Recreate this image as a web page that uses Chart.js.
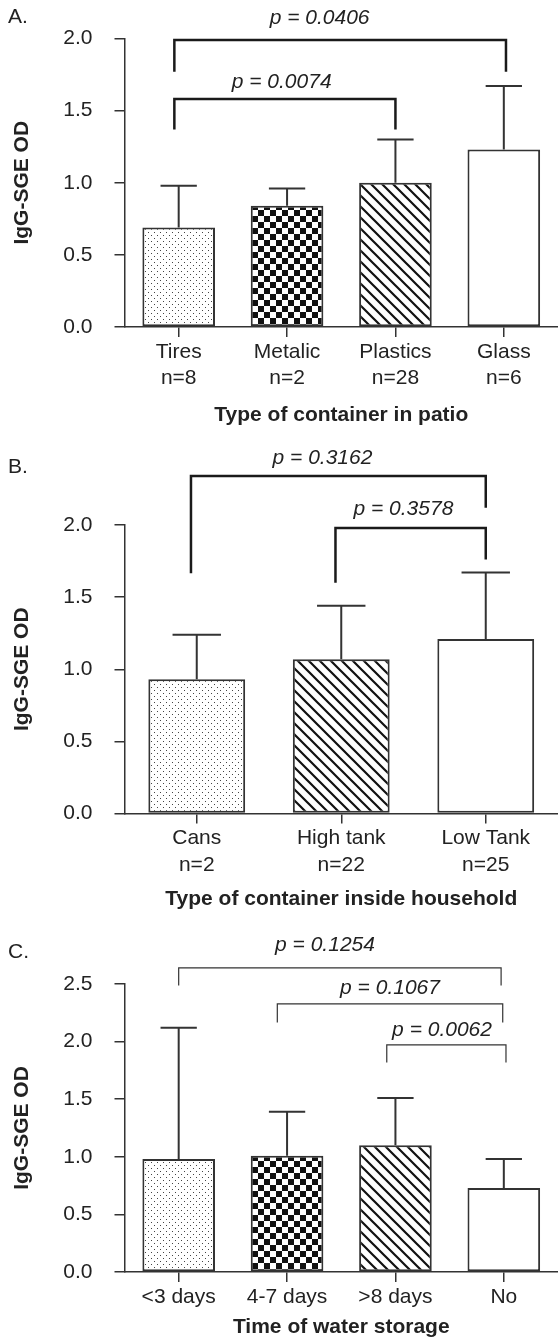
<!DOCTYPE html>
<html lang="en">
<head>
<meta charset="UTF-8">
<title>IgG-SGE OD by container type and water storage</title>
<script src="https://cdn.jsdelivr.net/npm/chart.js"></script>
<style>
  body { margin: 0; background: white; }
  #wrap { position: relative; width: 558px; height: 1340px; }
  canvas { position: absolute; left: 0; }
</style>
</head>
<body>
<div id="wrap">
  <canvas id="chartA" width="558" height="440" style="top:0px"></canvas>
  <canvas id="chartB" width="558" height="475" style="top:440px"></canvas>
  <canvas id="chartC" width="558" height="425" style="top:915px"></canvas>
</div>
<script>
// ---- panel A: container in patio
const patioLabels = [['Tires', 'n=8'], ['Metalic', 'n=2'], ['Plastics', 'n=28'], ['Glass', 'n=6']];
const patioMeans = [0.69, 0.84, 1.00, 1.23];
const patioSD = [0.29, 0.12, 0.30, 0.44];
const patioPText = ['p = 0.0406', 'p = 0.0074'];
const patioPairs = [[-0.04, 3.02], [-0.04, 2.0]];      // category index of bracket ends
const patioLevels = [1.99, 1.58];                       // bracket bar height
const patioLegEnds = [[1.77, 1.77], [1.37, 1.37]];      // bottom of each leg
const patioTextAt = [[1.3, 2.14], [0.95, 1.70]];        // [category index, value]

// ---- panel B: container inside household
const houseLabels = [['Cans', 'n=2'], ['High tank', 'n=22'], ['Low Tank', 'n=25']];
const houseMeans = [0.93, 1.07, 1.21];
const houseSD = [0.31, 0.37, 0.46];
const housePText = ['p = 0.3162', 'p = 0.3578'];
const housePairs = [[-0.04, 2.0], [0.96, 2.0]];
const houseLevels = [2.34, 1.98];
const houseLegEnds = [[1.665, 2.12], [1.60, 1.76]];
const houseTextAt = [[0.87, 2.46], [1.43, 2.11]];

// ---- panel C: time of water storage
const storageLabels = ['<3 days', '4-7 days', '>8 days', 'No'];
const storageMeans = [0.98, 1.01, 1.10, 0.73];
const storageSD = [1.14, 0.38, 0.41, 0.25];
const storagePText = ['p = 0.1254', 'p = 0.1067', 'p = 0.0062'];
const storagePairs = [[0, 2.975], [0.91, 2.99], [1.92, 3.02]];
const storageLevels = [2.64, 2.327, 1.971];
const storageLegEnds = [[2.486, 2.486], [2.165, 2.165], [1.818, 1.818]];
const storageTextAt = [[1.35, 2.84], [1.95, 2.46], [2.43, 2.095]];

const FONT = '"Liberation Sans", Arial, Helvetica, sans-serif';
const INK = '#222';
const LINE = '#333';
Chart.defaults.font.family = FONT;
Chart.defaults.color = INK;

// fill patterns
function dots(ctx) {
  const c = document.createElement('canvas'); c.width = 6; c.height = 6;
  const g = c.getContext('2d');
  g.fillStyle = '#fff'; g.fillRect(0, 0, 6, 6);
  g.fillStyle = '#444'; g.fillRect(1, 1, 1, 1); g.fillRect(4, 4, 1, 1);
  return ctx.createPattern(c, 'repeat');
}
function checker(ctx) {
  const c = document.createElement('canvas'); c.width = 12; c.height = 12;
  const g = c.getContext('2d');
  g.fillStyle = '#fff'; g.fillRect(0, 0, 12, 12);
  g.fillStyle = '#111'; g.fillRect(0, 0, 6, 6); g.fillRect(6, 6, 6, 6);
  return ctx.createPattern(c, 'repeat');
}
function hatch(ctx) {
  const s = 11;
  const c = document.createElement('canvas'); c.width = s; c.height = s;
  const g = c.getContext('2d');
  g.fillStyle = '#fff'; g.fillRect(0, 0, s, s);
  g.strokeStyle = '#111'; g.lineWidth = 2.2;
  g.beginPath();
  g.moveTo(-2, -2); g.lineTo(s + 2, s + 2);
  g.moveTo(-2, s - 2); g.lineTo(2, s + 2);
  g.moveTo(s - 2, -2); g.lineTo(s + 2, 2);
  g.stroke();
  return ctx.createPattern(c, 'repeat');
}

// error bars + significance brackets + panel letter
const extras = {
  id: 'extras',
  afterDatasetsDraw(chart) {
    const ex = chart.config.options.extras;
    const ctx = chart.ctx, y = chart.scales.y;
    const bars = chart.getDatasetMeta(0).data;
    ctx.save();
    ctx.strokeStyle = LINE; ctx.lineWidth = 2;
    bars.forEach((b, i) => {
      const top = y.getPixelForValue(ex.means[i] + ex.sd[i]);
      const half = b.width / 4;
      ctx.beginPath();
      ctx.moveTo(b.x, b.y); ctx.lineTo(b.x, top);
      ctx.moveTo(b.x - half, top); ctx.lineTo(b.x + half, top);
      ctx.stroke();
    });
    ctx.restore();
  },
  afterDraw(chart) {
    const ex = chart.config.options.extras;
    const ctx = chart.ctx, x = chart.scales.x, y = chart.scales.y;
    ctx.save();
    ctx.strokeStyle = ex.bracketColor; ctx.lineWidth = ex.bracketWidth;
    ctx.lineCap = 'butt'; ctx.lineJoin = 'miter';
    ex.pairs.forEach((p, i) => {
      const x0 = x.getPixelForValue(p[0]), x1 = x.getPixelForValue(p[1]);
      const yl = y.getPixelForValue(ex.levels[i]);
      ctx.beginPath();
      ctx.moveTo(x0, y.getPixelForValue(ex.legs[i][0]));
      ctx.lineTo(x0, yl); ctx.lineTo(x1, yl);
      ctx.lineTo(x1, y.getPixelForValue(ex.legs[i][1]));
      ctx.stroke();
    });
    ctx.fillStyle = INK;
    ctx.font = 'italic 21px ' + FONT;
    ctx.textAlign = 'center'; ctx.textBaseline = 'middle';
    ex.texts.forEach((t, i) => {
      ctx.fillText(t, x.getPixelForValue(ex.textAt[i][0]), y.getPixelForValue(ex.textAt[i][1]));
    });
    ctx.font = '21px ' + FONT;
    ctx.textAlign = 'left';
    ctx.fillText(ex.letter, ex.letterPos[0], ex.letterPos[1]);
    ctx.restore();
  }
};

function makeChart(id, cfg) {
  const canvas = document.getElementById(id);
  const ctx = canvas.getContext('2d');
  const fills = [dots(ctx), checker(ctx), hatch(ctx), '#fff'];
  const colors = cfg.fillIdx.map(k => fills[k]);
  return new Chart(ctx, {
    type: 'bar',
    data: {
      labels: cfg.labels,
      datasets: [{
        data: cfg.means,
        backgroundColor: colors,
        borderColor: LINE,
        borderWidth: 2,
        borderSkipped: false,
        barPercentage: 0.67,
        categoryPercentage: 1.0
      }]
    },
    options: {
      responsive: false,
      animation: false,
      devicePixelRatio: 1,
      layout: { padding: { top: cfg.top, left: 0, right: 0, bottom: 0 } },
      plugins: { legend: { display: false }, tooltip: { enabled: false } },
      extras: {
        means: cfg.means, sd: cfg.sd, pairs: cfg.pairs, levels: cfg.levels,
        legs: cfg.legs, texts: cfg.texts, textAt: cfg.textAt,
        bracketColor: cfg.bracketColor, bracketWidth: cfg.bracketWidth,
        letter: cfg.letter, letterPos: cfg.letterPos
      },
      scales: {
        x: {
          grid: { display: true, drawOnChartArea: false, drawTicks: true, tickLength: 10,
                  offset: false, color: LINE, lineWidth: 1.5 },
          border: { display: true, color: LINE, width: 1.5 },
          ticks: { color: INK, padding: 2, maxRotation: 0, autoSkip: false,
                   font: { size: 21, lineHeight: 1.25 } },
          title: { display: true, text: cfg.xTitle, color: INK,
                   font: { size: 21, weight: 'bold' }, padding: { top: 0, bottom: cfg.titlePad } },
          afterFit: s => { s.height = cfg.xHeight; }
        },
        y: {
          min: 0, max: cfg.yMax,
          grid: { display: true, drawOnChartArea: false, drawTicks: true, tickLength: 10,
                  color: LINE, lineWidth: 1.5 },
          border: { display: true, color: LINE, width: 1.5 },
          ticks: { stepSize: 0.5, padding: 22, color: INK, font: { size: 21 },
                   callback: v => v.toFixed(1) },
          title: { display: true, text: 'IgG-SGE OD', color: INK,
                   font: { size: 21, weight: 'bold' }, padding: { top: 10, bottom: 0 } },
          afterFit: s => { s.width = 124.5; }
        }
      }
    },
    plugins: [extras]
  });
}

makeChart('chartA', {
  labels: patioLabels, means: patioMeans, sd: patioSD, fillIdx: [0, 1, 2, 3],
  pairs: patioPairs, levels: patioLevels, legs: patioLegEnds, texts: patioPText, textAt: patioTextAt,
  bracketColor: '#1a1a1a', bracketWidth: 2.5, letter: 'A.', letterPos: [8, 17],
  xTitle: 'Type of container in patio', yMax: 2.0, top: 38.5, xHeight: 113, titlePad: 12
});
makeChart('chartB', {
  labels: houseLabels, means: houseMeans, sd: houseSD, fillIdx: [0, 2, 3],
  pairs: housePairs, levels: houseLevels, legs: houseLegEnds, texts: housePText, textAt: houseTextAt,
  bracketColor: '#1a1a1a', bracketWidth: 2.5, letter: 'B.', letterPos: [8, 27],
  xTitle: 'Type of container inside household', yMax: 2.0, top: 85, xHeight: 101.5, titlePad: 3
});
makeChart('chartC', {
  labels: storageLabels, means: storageMeans, sd: storageSD, fillIdx: [0, 1, 2, 3],
  pairs: storagePairs, levels: storageLevels, legs: storageLegEnds, texts: storagePText, textAt: storageTextAt,
  bracketColor: '#333', bracketWidth: 1.2, letter: 'C.', letterPos: [8, 37],
  xTitle: 'Time of water storage', yMax: 2.5, top: 69, xHeight: 68, titlePad: 0
});
</script>
</body>
</html>
